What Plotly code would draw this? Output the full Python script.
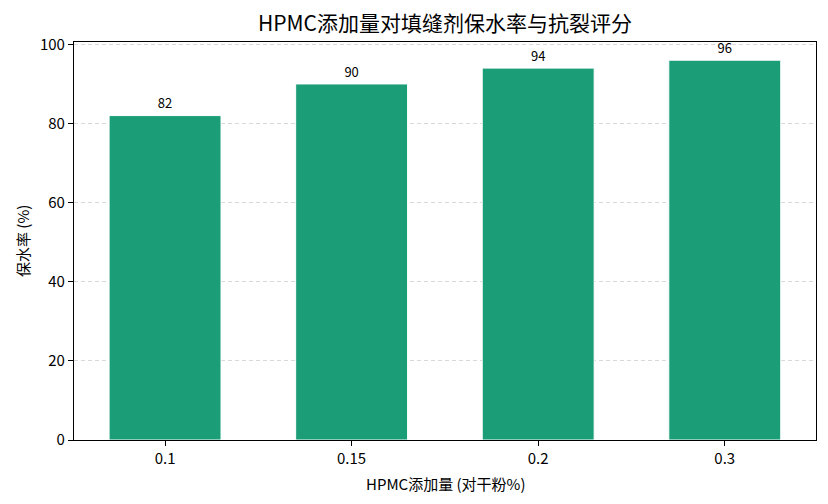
import plotly.graph_objects as go

categories = ["0.1", "0.15", "0.2", "0.3"]
water_retention = [82, 90, 94, 96]
y_ticks = [0, 20, 40, 60, 80, 100]

TITLE = "HPMC添加量对填缝剂保水率与抗裂评分"
X_TITLE = "HPMC添加量 (对干粉%)"
Y_TITLE = "保水率 (%)"

FONT = "Noto Sans CJK SC, SimHei, sans-serif"
BAR_COLOR = "#1b9e77"

# the page body adds an 8px offset; margins compensate for it
OFF = 8

fig = go.Figure()
fig.add_trace(go.Bar(
    x=categories,
    y=water_retention,
    width=0.6,
    marker=dict(color=BAR_COLOR, line=dict(color="white", width=1)),
    showlegend=False,
    hoverinfo="x+y",
))
fig.add_trace(go.Scatter(
    x=categories,
    y=[v + 1 for v in water_retention],
    mode="text",
    text=[str(v) for v in water_retention],
    textposition="top center",
    textfont=dict(family=FONT, size=13, color="#000000"),
    showlegend=False,
    hoverinfo="skip",
    cliponaxis=False,
))

fig.update_layout(
    width=828,
    height=504,
    margin=dict(l=74 - OFF, r=12 + OFF, t=42 - OFF, b=64 + OFF),
    paper_bgcolor="white",
    plot_bgcolor="white",
    font=dict(family=FONT, size=15, color="#000000"),
    title=dict(
        text=TITLE,
        x=0.5, xanchor="center", xref="paper",
        y=1 - (24 - OFF) / 504, yanchor="middle",
        font=dict(family=FONT, size=21, color="#000000"),
    ),
    annotations=[
        dict(text=X_TITLE, xref="paper", yref="paper", x=0.5, y=0,
             xanchor="center", yanchor="middle", yshift=-43, showarrow=False,
             font=dict(family=FONT, size=15, color="#000000")),
        dict(text=Y_TITLE, xref="paper", yref="paper", x=0, y=0.5,
             xanchor="center", yanchor="middle", xshift=-52, textangle=-90,
             showarrow=False,
             font=dict(family=FONT, size=15, color="#000000")),
    ],
)
fig.update_xaxes(
    type="category",
    range=[-0.488, 3.489],
    automargin=False,
    showline=True, linecolor="#000000", linewidth=1.2, mirror=True,
    ticks="outside", ticklen=5, tickcolor="#000000",
    showgrid=False,
    tickfont=dict(family=FONT, size=15),
)
fig.update_yaxes(
    range=[0, 100.6],
    tickvals=y_ticks,
    automargin=False,
    showline=True, linecolor="#000000", linewidth=1.2, mirror=True,
    ticks="outside", ticklen=5, tickcolor="#000000",
    showgrid=True, gridcolor="#d9d9d9", griddash="4px,3px", gridwidth=1,
    zeroline=False,
    tickfont=dict(family=FONT, size=15),
)

fig.write_html("out.html")
